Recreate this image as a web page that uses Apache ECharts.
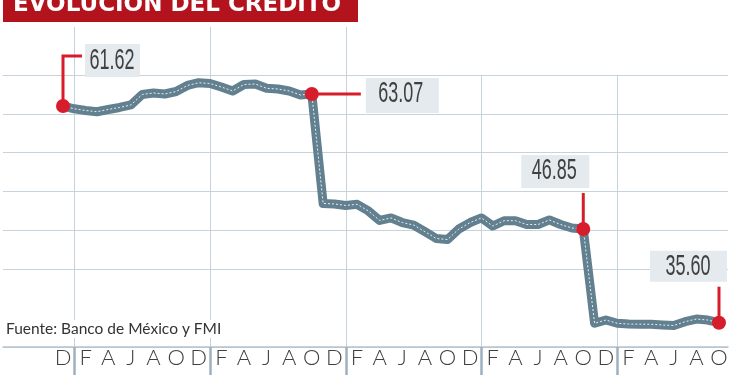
<!DOCTYPE html>
<html><head><meta charset="utf-8">
<script src="https://cdn.jsdelivr.net/npm/echarts@6/dist/echarts.min.js"></script>
<style>html,body{margin:0;padding:0;background:#fff}#c{width:750px;height:375px}</style>
</head><body><div id="c"></div>
<script>
// Month initials (Spanish), Dec of year 0 .. Oct of year 5
var months = ['D',
  'E','F','M','A','M','J','J','A','S','O','N','D',
  'E','F','M','A','M','J','J','A','S','O','N','D',
  'E','F','M','A','M','J','J','A','S','O','N','D',
  'E','F','M','A','M','J','J','A','S','O','N','D',
  'E','F','M','A','M','J','J','A','S','O'];

var values = [61.62,
  61.29, 61.09, 60.94, 61.21, 61.45, 61.75, 63.01, 63.19, 63.07, 63.37, 64.09, 64.42,
  64.33, 63.91, 63.43, 64.21, 64.27, 63.75, 63.67, 63.43, 62.95, 63.07, 49.92, 49.86,
  49.68, 49.82, 49.02, 47.88, 48.18, 47.63, 47.33, 46.53, 45.71, 45.59, 46.85, 47.63,
  48.18, 47.21, 47.85, 47.85, 47.39, 47.39, 47.94, 47.39, 46.97, 46.85, 35.53, 35.92,
  35.53, 35.44, 35.42, 35.41, 35.32, 35.26, 35.72, 36.04, 35.92, 35.60];

var annoIdx = [0, 22, 46, 58];
var annoText = ['61.62', '63.07', '46.85', '35.60'];

var gridRows = ['', '', '', '', '', '', '', ''];

var title = 'EVOLUCIÓN DEL CRÉDITO';
var source = 'Fuente: Banco de México y FMI';

// layout (pixel offsets relative to the annotated point)
var annoLayout = [
  {path: [[0,0],[0,-50],[19,-50]], box: [22,-62,55,33], text: [49,-45]},
  {path: [[0,0],[49,0]],           box: [54,-16,73,35], text: [89,0]},
  {path: [[0,0],[0,-36]],          box: [-62,-74,68,33], text: [-29,-58]},
  {path: [[0,0],[0,-36]],          box: [-69,-72,77,31], text: [-31,-56]}
];

var RED = '#d71d2b';
var GRID_C = '#c6d3dc';
var LINE_C = '#62808f';

var chart = echarts.init(document.getElementById('c'));
var isJan = function (i) { return i % 12 === 1; };

chart.setOption({
  animation: false,
  grid: [
    {left: 63, right: 31, top: 75, bottom: 28},
    {left: 3, right: 22, top: 75, bottom: 28},
    {left: 3, width: 380, top: 36, height: 39},
    {left: 63, right: 31, top: 27, height: 48}
  ],
  xAxis: [
    {gridIndex: 0, type: 'category', data: months, boundaryGap: false,
     axisLine: {show: false},
     axisTick: {show: true, interval: isJan, length: 28, lineStyle: {color: '#9db1c0', width: 2.5}},
     axisLabel: {interval: function (i) { return i % 2 === 0; }, margin: 0, fontSize: 22,
                 fontWeight: 300, color: '#404040', fontFamily: 'Lato'},
     splitLine: {show: true, interval: isJan, lineStyle: {color: GRID_C, width: 1}}},
    {gridIndex: 1, type: 'value', min: 0, max: 1,
     axisLine: {show: true, lineStyle: {color: '#b5c4d0', width: 1.5}},
     axisTick: {show: false}, axisLabel: {show: false}, splitLine: {show: false}},
    {gridIndex: 2, type: 'value', position: 'top', min: 0, max: 1,
     axisLine: {show: true, lineStyle: {color: GRID_C, width: 1}},
     axisTick: {show: false}, axisLabel: {show: false}, splitLine: {show: false}},
    {gridIndex: 3, type: 'category', data: months, boundaryGap: false,
     axisLine: {show: false}, axisTick: {show: false}, axisLabel: {show: false},
     splitLine: {show: true, interval: function (i) { return i % 12 === 1 && i < 30; },
                 lineStyle: {color: GRID_C, width: 1}}}
  ],
  yAxis: [
    {gridIndex: 0, type: 'value', min: 32.68, max: 65.35, show: false},
    {gridIndex: 1, type: 'category', data: gridRows, boundaryGap: false,
     axisLine: {show: false}, axisTick: {show: false}, axisLabel: {show: false},
     splitLine: {show: true, interval: function (i) { return i !== 1; },
                 lineStyle: {color: GRID_C, width: 1}}},
    {gridIndex: 2, type: 'value', show: false},
    {gridIndex: 3, type: 'value', show: false}
  ],
  series: [
    {type: 'line', xAxisIndex: 0, yAxisIndex: 0, data: values, symbol: 'none', z: 3,
     lineStyle: {color: LINE_C, width: 9, join: 'round', cap: 'round'}},
    {type: 'line', xAxisIndex: 0, yAxisIndex: 0, data: values, symbol: 'none', z: 4,
     lineStyle: {color: '#e9eff3', width: 1, type: [2, 2]}},
    {type: 'custom', xAxisIndex: 0, yAxisIndex: 0, z: 10, clip: false,
     data: annoIdx.map(function (i) { return [i, values[i]]; }),
     renderItem: function (params, api) {
       var k = params.dataIndex, L = annoLayout[k];
       var p = api.coord([api.value(0), api.value(1)]);
       var x = p[0], y = p[1];
       return {type: 'group', children: [
         {type: 'polyline', shape: {points: L.path.map(function (d) { return [x + d[0], y + d[1]]; })},
          style: {stroke: RED, lineWidth: 3, fill: null}},
         {type: 'rect', shape: {x: x + L.box[0], y: y + L.box[1], width: L.box[2], height: L.box[3]},
          style: {fill: '#e4eaee'}},
         {type: 'text', x: x + L.text[0], y: y + L.text[1], scaleX: 0.6,
          style: {text: annoText[k], fill: '#404040', fontSize: 30, fontFamily: 'Liberation Sans',
                  align: 'center', verticalAlign: 'middle'}},
         {type: 'circle', shape: {cx: x, cy: y, r: 7}, style: {fill: RED}}
       ]};
     }}
  ],
  graphic: [
    {type: 'rect', left: 3, top: 0, shape: {width: 355, height: 22}, style: {fill: '#b3131d'}, z: 100},
    {type: 'text', left: 13, top: -6, z: 101,
     style: {text: title, fill: '#ffffff', font: 'bold 23px "DejaVu Sans"'}},
    {type: 'text', left: 4, top: 320, z: 100,
     style: {text: source, fill: '#333333', font: '15.5px Lato', backgroundColor: '#ffffff', padding: [1, 2]}}
  ]
});
</script></body></html>
